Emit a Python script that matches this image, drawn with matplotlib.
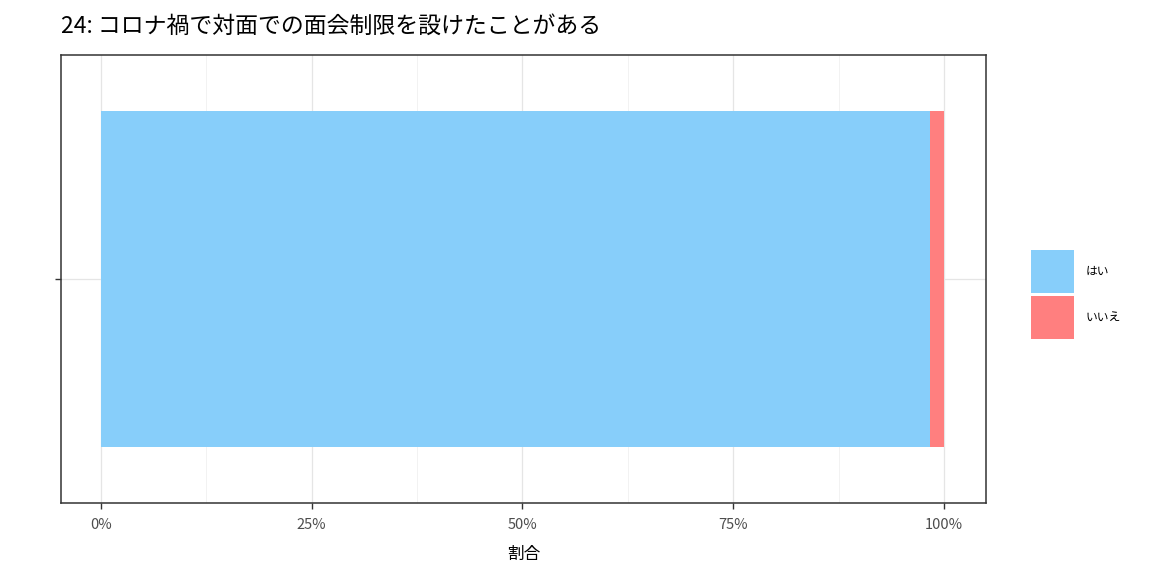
import matplotlib
matplotlib.use("Agg")
import matplotlib.pyplot as plt
from matplotlib.patches import Rectangle

plt.rcParams['font.family'] = ['Noto Sans CJK JP', 'DejaVu Sans']

title = "24: コロナ禍で対面での面会制限を設けたことがある"
labels = ["はい", "いいえ"]
shares = [0.983, 0.017]
colors = ["#87CEFA", "#FF7F7F"]
xticks = [0, 0.25, 0.5, 0.75, 1.0]
xtick_labels = ["0%", "25%", "50%", "75%", "100%"]

W, H = 1152, 576
fig = plt.figure(figsize=(W / 100, H / 100), dpi=100)
ax = fig.add_axes([61 / W, 73 / H, 925 / W, 448 / H])

left = 0
for lab, v, c in zip(labels, shares, colors):
    ax.barh(1, v, left=left, height=0.9, color=c, label=lab, zorder=2)
    left += v

ax.set_xlim(-0.0475, 1.05)
ax.set_ylim(0.4, 1.6)
ax.set_xticks(xticks)
ax.set_xticklabels(xtick_labels, color="#4d4d4d", fontsize=10.5)
ax.set_xticks([0.125, 0.375, 0.625, 0.875], minor=True)
ax.set_yticks([1])
ax.set_yticklabels([""])
ax.grid(True, which="major", color="#e5e5e5", linewidth=0.9, zorder=0)
ax.grid(True, which="minor", axis="x", color="#f0f0f0", linewidth=0.6, zorder=0)
ax.tick_params(axis="both", which="major", length=4, color="#333333", width=1, pad=7)
ax.tick_params(axis="x", which="minor", length=0)
for s in ax.spines.values():
    s.set_color("#333333")
    s.set_linewidth(1.1)
ax.set_xlabel("割合", fontsize=12, labelpad=10)

fig.text(61 / W, 1 - 26 / H, title, fontsize=16.5, va="center", ha="left")

# legend: square keys drawn in figure pixels
key = 43
for i, (lab, c) in enumerate(zip(labels, colors)):
    top = 250 + i * (key + 3)
    fig.add_artist(Rectangle((1031 / W, 1 - (top + key) / H), key / W, key / H,
                             transform=fig.transFigure, facecolor=c, edgecolor="none"))
    fig.text(1086 / W, 1 - (top + key / 2) / H, lab, fontsize=8.5, va="center", ha="left")

fig.savefig("out.png", dpi=100)
